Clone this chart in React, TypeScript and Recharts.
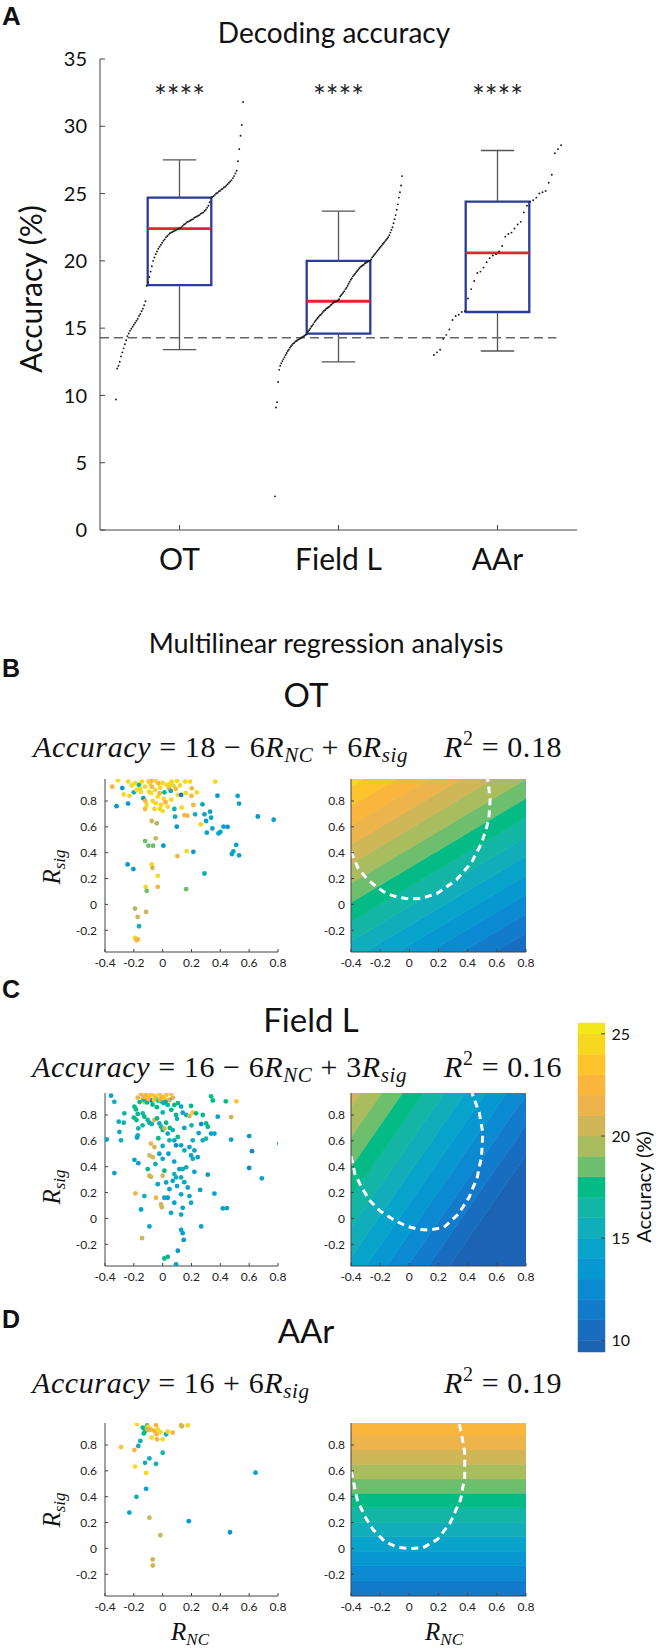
import React from 'react';
import { ComposedChart, Scatter, XAxis, YAxis, ReferenceArea, ReferenceLine, Area, Line } from 'recharts';

const SANS = "Lato, 'Open Sans', 'DejaVu Sans', sans-serif";
const SERIF = "'Liberation Serif', 'DejaVu Serif', serif";
const BOLD = "'Liberation Sans', Arial, sans-serif";

// ---------- Panel A ----------
const REGIONS = ['OT', 'Field L', 'AAr'];
const ACC_OT = [
  9.7, 12.0, 12.2, 12.5, 12.9, 13.2, 13.5, 13.8, 14.1, 14.4,
  14.6, 14.8, 14.95, 15.1, 15.25, 15.4, 15.55, 15.7, 15.9, 16.05,
  16.25, 16.45, 16.7, 17.0, 18.15, 18.4, 18.8, 19.2, 19.6, 20.0,
  20.25, 20.5, 20.7, 20.9, 21.05, 21.2, 21.35, 21.5, 21.6, 21.75,
  21.85, 21.95, 22.05, 22.1, 22.15, 22.2, 22.25, 22.3, 22.35, 22.4,
  22.45, 22.5, 22.6, 22.7, 22.75, 22.85, 22.9, 22.95, 23.0, 23.05,
  23.1, 23.2, 23.25, 23.3, 23.35, 23.4, 23.5, 23.55, 23.6, 23.7,
  23.8, 23.95, 24.1, 24.35, 24.7, 24.75, 24.8, 24.9, 25.0, 25.05,
  25.15, 25.2, 25.3, 25.35, 25.45, 25.5, 25.6, 25.7, 25.8, 25.9,
  26.0, 26.15, 26.3, 26.5, 26.7, 27.4, 28.3, 29.3, 30.1, 31.8,
];
const ACC_FL = [
  2.5, 9.1, 9.5, 11.0, 11.9, 12.2, 12.4, 12.55, 12.7, 12.85,
  13.0, 13.15, 13.3, 13.4, 13.55, 13.65, 13.75, 13.85, 13.9, 14.0,
  14.05, 14.1, 14.15, 14.2, 14.25, 14.3, 14.35, 14.4, 14.45, 14.5,
  14.6, 14.75, 14.85, 14.95, 15.1, 15.2, 15.3, 15.45, 15.55, 15.65,
  15.75, 15.85, 15.95, 16.0, 16.1, 16.2, 16.3, 16.35, 16.45, 16.5,
  16.55, 16.6, 16.7, 16.75, 16.85, 16.9, 16.95, 17.0, 17.0, 17.05,
  17.15, 17.35, 17.45, 17.55, 17.65, 17.75, 17.9, 18.0, 18.15, 18.3,
  18.45, 18.6, 18.7, 18.85, 18.95, 19.05, 19.15, 19.25, 19.35, 19.45,
  19.55, 19.6, 19.65, 19.7, 19.8, 19.85, 19.9, 19.95, 20.0, 20.0,
  20.1, 20.25, 20.35, 20.45, 20.55, 20.65, 20.75, 20.85, 20.95, 21.05,
  21.15, 21.25, 21.35, 21.45, 21.55, 21.65, 21.75, 21.9, 22.1, 22.3,
  22.5, 22.8, 23.1, 23.4, 23.8, 24.2, 24.7, 25.1, 25.6, 26.3,
];
const ACC_AAR = [
  13.0, 13.2, 13.4, 14.2, 14.5, 14.9, 15.6, 15.9, 16.0, 16.2,
  16.25, 17.2, 17.9, 18.5, 19.1, 19.2, 19.5, 19.9, 20.2, 20.4,
  20.5, 20.7, 21.1, 21.8, 22.0, 22.1, 22.4, 22.7, 22.9, 23.6,
  24.1, 24.4, 24.5, 24.7, 25.0, 25.1, 25.2, 25.8, 26.4, 28.0,
  28.3, 28.6,
];
const Q1 = [18.2, 14.6, 16.2];
const MEDIAN = [22.4, 17.0, 20.6];
const Q3 = [24.7, 20.0, 24.4];
const WHISK_LO = [13.4, 12.5, 13.3];
const WHISK_HI = [27.5, 23.7, 28.2];
const CHANCE = 14.29;
const STARS = ['****', '****', '****'];
const A_TICKS = [0, 5, 10, 15, 20, 25, 30, 35];

// ---------- Panels B-D: scatter points [R_NC, R_sig, accuracy] ----------
const SC_OT = [
  [-0.42, 0.69, 14.5], [-0.35, 0.91, 22], [-0.32, 0.76, 13], [-0.31, 0.96, 24.5], [-0.28, 0.9, 13], [-0.24, 0.78, 13],
  [-0.24, 0.95, 24.5], [-0.27, 0.85, 24], [-0.23, 0.84, 24], [-0.215, 0.92, 24.5], [-0.2, 0.867, 15], [-0.19, 0.937, 24],
  [-0.18, 0.885, 24.5], [-0.164, 0.924, 17.5], [-0.157, 0.893, 24], [-0.134, 0.821, 13], [-0.145, 0.95, 24.5], [-0.122, 0.911, 24],
  [-0.122, 0.738, 22], [-0.111, 0.769, 24], [-0.094, 0.872, 24.5], [-0.088, 0.937, 24], [-0.081, 0.955, 22.5], [-0.076, 0.911, 22.5],
  [-0.069, 0.8, 24], [-0.057, 0.738, 24], [-0.053, 0.885, 24], [-0.046, 0.782, 24], [-0.034, 0.834, 24.5], [-0.03, 0.937, 22.5],
  [-0.018, 0.903, 24], [-0.011, 0.769, 24], [0, 0.722, 24], [0.007, 0.816, 24], [0.012, 0.867, 17.5], [0.028, 0.924, 24.5],
  [0.035, 0.756, 24], [0.044, 0.898, 22.5], [0.056, 0.878, 15], [0.063, 0.95, 24], [0.075, 0.919, 24.5], [0.081, 0.738, 15],
  [0.086, 0.679, 15], [0.091, 0.893, 22.5], [0.098, 0.601, 13], [0.105, 0.847, 24], [0.128, 0.847, 11], [0.132, 0.748, 24],
  [0.151, 0.691, 22.5], [0.156, 0.95, 24.5], [0.172, 0.686, 22.5], [0.19, 0.95, 24.5], [0.202, 0.898, 22.5], [0.213, 0.769, 22],
  [0.225, 0.697, 15], [0.237, 0.867, 24], [0.264, 0.619, 24], [0.276, 0.774, 14.5], [0.29, 0.697, 14.5], [0.301, 0.645, 14.5],
  [0.306, 0.555, 14.5], [0.329, 0.717, 14.5], [0.336, 0.671, 14.5], [0.345, 0.588, 14.5], [0.364, 0.95, 24.5], [0.38, 0.841, 13.5],
  [0.387, 0.549, 14.5], [0.422, 0.601, 14.5],
  [-0.076, 0.645, 20], [-0.041, 0.627, 19], [-0.048, 0.511, 20], [-0.122, 0.49, 18], [-0.099, 0.454, 18], [-0.067, 0.454, 18],
  [0.005, 0.454, 13.5], [-0.243, 0.309, 13], [-0.203, 0.273, 13], [-0.076, 0.309, 24], [-0.071, 0.283, 20], [-0.034, 0.221, 24.5],
  [-0.118, 0.136, 24.5], [-0.111, 0.105, 18], [-0.034, 0.136, 22], [0.163, 0.118, 18.5], [0.29, 0.239, 15], [0.167, 0.412, 24],
  [0.213, 0.407, 13.5], [0.102, 0.374, 22.5], [-0.192, -0.032, 19.5], [-0.173, -0.097, 20], [-0.115, -0.058, 20], [-0.164, -0.169, 15],
  [-0.192, -0.259, 24.5], [-0.173, -0.27, 22.5], [-0.18, -0.278, 22.5],
  [0.52, 0.84, 14.5], [0.53, 0.78, 14.5], [0.45, 0.6, 13.5], [0.4, 0.56, 14.5], [0.51, 0.46, 14.5], [0.48, 0.39, 14.5],
  [0.53, 0.38, 14.5], [0.49, 0.41, 14.5], [0.66, 0.68, 13.5], [0.77, 0.655, 14],
  [-0.1, 0.95, 24], [-0.05, 0.955, 24.5], [0, 0.94, 24.5], [0.05, 0.93, 24], [0.1, 0.955, 24.5], [-0.15, 0.87, 24],
  [-0.02, 0.86, 22.5], [0.12, 0.92, 24], [-0.08, 0.86, 24], [0.02, 0.79, 22.5], [-0.02, 0.74, 24], [0.06, 0.81, 24],
  [-0.12, 0.8, 22], [0.16, 0.86, 24], [0.2, 0.84, 22],
];
const SC_FL = [
  [-0.358, 0.949, 14.5], [-0.335, 0.902, 15], [-0.266, 0.813, 16.5], [-0.305, 0.748, 15], [-0.27, 0.74, 16.5], [-0.3, 0.669, 15],
  [-0.289, 0.604, 15], [-0.388, 0.612, 14], [-0.335, 0.351, 14], [-0.196, 0.865, 17.5], [-0.185, 0.844, 17.5], [-0.173, 0.808, 17.5],
  [-0.182, 0.761, 17], [-0.169, 0.696, 16.5], [-0.173, 0.643, 15], [-0.178, 0.625, 14.5], [-0.196, 0.453, 14.5], [-0.169, 0.427, 14.5],
  [-0.189, 0.194, 21.5], [-0.15, 0.069, 14], [-0.143, -0.153, 20.5], [-0.127, 0.173, 15],
  [-0.15, 0.962, 22], [-0.173, 0.935, 21.5], [-0.138, 0.925, 22], [-0.127, 0.9, 23], [-0.115, 0.955, 22], [-0.092, 0.94, 23],
  [-0.081, 0.962, 23.5], [-0.057, 0.948, 23], [-0.046, 0.93, 21.5], [-0.023, 0.96, 23], [-0.006, 0.94, 22], [0.024, 0.955, 23],
  [0.058, 0.962, 23], [0.07, 0.935, 21.5], [-0.131, 0.917, 16.5], [-0.108, 0.897, 17.5], [-0.076, 0.912, 11], [-0.03, 0.912, 17.5],
  [-0.006, 0.904, 15], [0.007, 0.891, 16.5], [0.035, 0.878, 15], [0.047, 0.917, 16.5], [0.081, 0.878, 17.5], [0.093, 0.8, 17.5],
  [0.105, 0.891, 17.5], [0.128, 0.865, 14], [0.139, 0.818, 14.5], [0.163, 0.8, 15], [0.186, 0.792, 20.5], [0.197, 0.87, 17.5],
  [0.209, 0.818, 23], [0.232, 0.813, 17.5], [0.267, 0.73, 12], [0.278, 0.8, 17.5], [0.301, 0.735, 17], [0.313, 0.709, 17],
  [0.336, 0.944, 17.5], [0.348, 0.912, 17.5], [0.382, 0.787, 14],
  [-0.138, 0.813, 16.5], [-0.127, 0.787, 17.5], [-0.104, 0.761, 16.5], [-0.092, 0.74, 17.5], [-0.076, 0.73, 15], [-0.057, 0.761, 20],
  [-0.039, 0.774, 17.5], [-0.023, 0.735, 15], [-0.011, 0.709, 16.5], [0, 0.683, 17.5], [0.012, 0.696, 20], [0.024, 0.74, 17.5],
  [0.035, 0.656, 14.5], [0.047, 0.604, 16.5], [0.07, 0.683, 15], [0.081, 0.604, 14], [0.093, 0.565, 12.5], [0.105, 0.63, 17],
  [0.128, 0.565, 14], [0.151, 0.526, 15], [0.186, 0.552, 14], [0.209, 0.604, 15], [0.22, 0.526, 14], [0.243, 0.474, 14],
  [0.278, 0.604, 15], [0.301, 0.617, 16.5], [0.336, 0.656, 14], [0.359, 0.656, 14],
  [-0.081, 0.578, 21.5], [-0.057, 0.552, 20.5], [-0.092, 0.487, 20], [-0.069, 0.474, 20.5], [-0.104, 0.382, 17.5], [-0.092, 0.33, 20],
  [-0.081, 0.322, 20], [-0.023, 0.5, 14.5], [0, 0.461, 14.5], [0.012, 0.369, 17], [0, 0.33, 20], [-0.034, 0.265, 14],
  [0.024, 0.278, 14], [-0.011, 0.108, 20], [-0.006, 0.087, 20.5], [-0.046, 0.16, 21.5], [0.012, 0.16, 14], [0.035, 0.16, 13.5],
  [0.047, 0.226, 14], [0.07, 0.291, 14], [0.081, 0.343, 15], [0.093, 0.317, 15], [0.116, 0.382, 14], [0.139, 0.382, 15],
  [0.128, 0.317, 15], [0.163, 0.395, 15], [0.197, 0.487, 14], [0.209, 0.461, 15], [0.174, 0.239, 14], [0.128, 0.186, 14],
  [0.081, 0.121, 14], [0.058, 0.043, 14.5], [0.128, 0.03, 14], [0.139, 0.082, 14], [0.186, 0.173, 14], [0.197, 0.121, 15],
  [0.128, -0.088, 14], [0.139, -0.114, 14], [0.146, -0.166, 13], [0.105, -0.25, 13], [0.012, -0.31, 17], [0.035, -0.297, 17],
  [0.093, -0.355, 14], [-0.092, -0.062, 14], [0.267, -0.062, 14], [0.313, 0.338, 13], [0.359, 0.192, 14], [0.417, 0.077, 14],
  [0.438, 0.906, 17.5], [0.511, 0.906, 23], [0.475, 0.784, 20], [0.475, 0.61, 14], [0.6, 0.637, 13], [0.62, 0.52, 12],
  [0.6, 0.39, 12.5], [0.688, 0.31, 14], [0.81, 0.58, 14], [0.446, 0.08, 14],
  [-0.1, 0.925, 22.5], [-0.06, 0.915, 23], [-0.02, 0.92, 22], [0.01, 0.93, 23], [0.04, 0.915, 22], [-0.13, 0.94, 22.5],
  [-0.07, 0.88, 17], [0.02, 0.9, 14.5], [-0.16, 0.9, 17.5], [-0.04, 0.86, 17], [0, 0.82, 15], [0.06, 0.84, 17.5],
  [0.1, 0.77, 15], [-0.2, 0.78, 17], [-0.14, 0.72, 16.5], [0.15, 0.7, 14.5], [0.2, 0.72, 16.5], [0.25, 0.66, 14.5],
  [0.05, 0.7, 17.5], [-0.03, 0.62, 17], [0, 0.56, 15], [0.04, 0.5, 14.5], [-0.05, 0.42, 15], [0.08, 0.44, 14],
  [0.1, 0.25, 14], [0.15, 0.28, 14.5], [0.22, 0.36, 14], [0.26, 0.22, 14],
];
const SC_AAR = [
  [-0.178, 0.962, 24.5], [-0.138, 0.935, 17], [-0.122, 0.909, 17.5], [-0.131, 0.889, 17], [-0.108, 0.952, 18.5], [-0.099, 0.94, 24],
  [-0.092, 0.915, 22.5], [-0.108, 0.92, 20], [-0.081, 0.92, 22.5], [-0.057, 0.909, 22.5], [-0.046, 0.952, 22], [-0.034, 0.92, 24],
  [-0.016, 0.9, 24], [-0.076, 0.857, 24], [-0.043, 0.883, 22.5], [-0.039, 0.844, 22], [0, 0.844, 24], [0.024, 0.883, 15.5],
  [0.035, 0.904, 24], [0.07, 0.896, 22], [0.128, 0.952, 20], [0.133, 0.945, 20.5], [0.174, 0.952, 24], [-0.155, 0.831, 15.5],
  [-0.169, 0.792, 15], [-0.196, 0.761, 22], [-0.289, 0.784, 23.5], [-0.192, 0.633, 24], [-0.115, 0.584, 24.5], [-0.122, 0.662, 15],
  [-0.092, 0.696, 15.5], [-0.046, 0.654, 15.5], [0, 0.74, 16], [-0.115, 0.461, 14.5], [-0.182, 0.399, 15.5], [-0.231, 0.277, 14],
  [-0.092, 0.238, 20], [-0.016, 0.102, 20], [-0.069, -0.085, 20.5], [-0.069, -0.132, 20], [0.181, 0.211, 13], [0.467, 0.125, 13.5],
  [0.644, 0.586, 14],
];

// contour surfaces: [intercept, coef R_NC, coef R_sig]
const SURF_OT = [16.1, -4.5, 6.7];
const SURF_FL = [13.5, -7.0, 4.3];
const SURF_AAR = [14.2, 0, 8.9];

// white dashed boundary curves [R_NC, R_sig]
const DASH_OT = [
  [-0.4, 0.41], [-0.395, 0.394], [-0.35, 0.278], [-0.293, 0.2], [-0.225, 0.136], [-0.157, 0.084], [-0.078, 0.055],
  [0, 0.043], [0.08, 0.045], [0.193, 0.087], [0.323, 0.19], [0.424, 0.32], [0.496, 0.474], [0.545, 0.655],
  [0.554, 0.81], [0.54, 0.95], [0.535, 0.97],
];
const DASH_FL = [
  [-0.4, 0.48], [-0.395, 0.461], [-0.373, 0.344], [-0.327, 0.24], [-0.27, 0.136], [-0.202, 0.058], [-0.111, -0.008],
  [-0.02, -0.06], [0.07, -0.086], [0.135, -0.09], [0.236, -0.07], [0.337, 0.034], [0.41, 0.164], [0.466, 0.32],
  [0.495, 0.477], [0.504, 0.66], [0.48, 0.816], [0.438, 0.945], [0.43, 0.97],
];
const DASH_AAR = [
  [-0.4, 0.6], [-0.395, 0.58], [-0.357, 0.376], [-0.305, 0.247], [-0.248, 0.144], [-0.168, 0.054], [-0.088, 0.01],
  [0, -0.002], [0.093, 0.005], [0.193, 0.07], [0.28, 0.198], [0.352, 0.378], [0.38, 0.558], [0.38, 0.738],
  [0.357, 0.893], [0.34, 0.97],
];

const X_DOMAIN = [-0.4, 0.8];
const Y_DOMAIN = [-0.368, 0.97];
const R_TICKS_X = [-0.4, -0.2, 0, 0.2, 0.4, 0.6, 0.8];
const R_TICKS_Y = [-0.2, 0, 0.2, 0.4, 0.6, 0.8];

const LEVELS = [9.43, 10, 11, 12, 13, 14, 15, 16, 17, 18, 19, 20, 21, 22, 23, 24, 25, 25.53];
const BAND_COLORS = [
  '#1c63b3', '#196dc0', '#137bcb', '#0b89d1', '#0797d1', '#07a3cb', '#12adbb', '#13b5a4', '#04bb86',
  '#6dbf6e', '#a9bc5e', '#cfb657', '#edb44c', '#fab53d', '#fdc52b', '#f6d820', '#f2e71a',
];
const CB_TICKS = [10, 15, 20, 25];

const colorFor = (v: number) => {
  for (let i = 0; i < BAND_COLORS.length; i++) if (v < LEVELS[i + 1]) return BAND_COLORS[i];
  return BAND_COLORS[BAND_COLORS.length - 1];
};

const rankDots = (vals: number[], cat: number) =>
  vals.map((v, i) => ({ x: cat - 0.4 + (0.8 * i) / (vals.length - 1), y: v }));

const toPts = (arr: number[][]) => arr.map(([x, y, a]) => ({ x, y, acc: a }));
const toLine = (arr: number[][]) => arr.map(([x, y]) => ({ x, y }));

const bands = (surf: number[]) => {
  const [a, b, c] = surf;
  const last = BAND_COLORS.length - 1;
  return BAND_COLORS.map((col, k) => {
    const lo = (x: number) => (k === 0 ? -5 : (LEVELS[k] - a - b * x) / c);
    const hi = (x: number) => (k === last ? 5 : (LEVELS[k + 1] - a - b * x) / c);
    return { col, data: X_DOMAIN.map((x) => ({ x, r: [lo(x), hi(x)] })) };
  });
};

const AX = { stroke: '#444', strokeWidth: 1 };
const fmt = (v: number) => String(v);

const smallDot = (p: any) => <circle cx={p.cx} cy={p.cy} r={0.95} fill="#1a1a1a" />;
const colorDot = (p: any) => <circle cx={p.cx} cy={p.cy} r={2.4} fill={colorFor(p.payload.acc)} />;
const starShape = (p: any) => (
  <text x={p.cx} y={p.cy} textAnchor="middle" fontSize={30} fontFamily={SANS} fill="#222">
    {p.payload.label}
  </text>
);

function PanelA() {
  const dots = [rankDots(ACC_OT, 1), rankDots(ACC_FL, 2), rankDots(ACC_AAR, 3)];
  const stars = STARS.map((s, i) => ({ x: i + 1, y: 31.4, label: s }));
  return (
    <div style={{ position: 'absolute', left: 0, top: 0 }}>
      <ComposedChart width={656} height={600} margin={{ top: 59, right: 79, bottom: 30, left: 0 }}>
        <XAxis type="number" dataKey="x" domain={[0.5, 3.5]} ticks={[1, 2, 3]} allowDataOverflow height={40}
          interval={0} tickFormatter={(v: number) => REGIONS[Math.round(v) - 1]} tickSize={-5} tickMargin={24}
          tick={{ fontSize: 30, fontFamily: SANS, fill: '#111' }} axisLine={AX} tickLine={AX} />
        <YAxis type="number" dataKey="y" domain={[0, 35]} ticks={A_TICKS} allowDataOverflow width={100}
          interval={0} tickSize={-5} tickMargin={18} tick={{ fontSize: 20, fontFamily: SANS, fill: '#111' }}
          axisLine={AX} tickLine={AX} />
        {REGIONS.map((r, i) => {
          const c = i + 1;
          return (
            <React.Fragment key={r}>
              <ReferenceLine segment={[{ x: c, y: Q3[i] }, { x: c, y: WHISK_HI[i] }]} stroke="#555" strokeWidth={1.3} />
              <ReferenceLine segment={[{ x: c, y: WHISK_LO[i] }, { x: c, y: Q1[i] }]} stroke="#555" strokeWidth={1.3} />
              <ReferenceLine segment={[{ x: c - 0.105, y: WHISK_HI[i] }, { x: c + 0.105, y: WHISK_HI[i] }]} stroke="#555" strokeWidth={1.3} />
              <ReferenceLine segment={[{ x: c - 0.105, y: WHISK_LO[i] }, { x: c + 0.105, y: WHISK_LO[i] }]} stroke="#555" strokeWidth={1.3} />
              <ReferenceArea x1={c - 0.2} x2={c + 0.2} y1={Q1[i]} y2={Q3[i]} fill="none" fillOpacity={0}
                stroke="#2a3b9c" strokeWidth={2.3} />
              <ReferenceLine segment={[{ x: c - 0.2, y: MEDIAN[i] }, { x: c + 0.2, y: MEDIAN[i] }]} stroke="#e2272b" strokeWidth={2.8} />
            </React.Fragment>
          );
        })}
        <ReferenceLine segment={[{ x: 0.5, y: CHANCE }, { x: 3.37, y: CHANCE }]} stroke="#666" strokeWidth={1.6} strokeDasharray="9 5" />
        {dots.map((d, i) => (
          <Scatter key={i} data={d} dataKey="y" shape={smallDot} isAnimationActive={false} />
        ))}
        <Scatter data={stars} dataKey="y" shape={starShape} isAnimationActive={false} />
      </ComposedChart>
    </div>
  );
}

const tickSmall = { fontSize: 12, fontFamily: SANS, fill: '#222' };

function ScatterPanel({ top, pts }: { top: number; pts: number[][] }) {
  return (
    <div style={{ position: 'absolute', left: 0, top: top - 10 }}>
      <ComposedChart width={290} height={215} margin={{ top: 10, right: 12, bottom: 2, left: 0 }}>
        <XAxis type="number" dataKey="x" domain={X_DOMAIN} ticks={R_TICKS_X} allowDataOverflow height={30} interval={0}
          tickFormatter={fmt} tickSize={-3} tickMargin={9.5} tick={tickSmall} axisLine={AX} tickLine={AX} />
        <YAxis type="number" dataKey="y" domain={Y_DOMAIN} ticks={R_TICKS_Y} allowDataOverflow width={105} interval={0}
          tickFormatter={fmt} tickSize={-3} tickMargin={11} tick={tickSmall} axisLine={AX} tickLine={AX} />
        <Scatter data={toPts(pts)} dataKey="y" shape={colorDot} isAnimationActive={false} />
      </ComposedChart>
    </div>
  );
}

function ContourPanel({ top, surf, dash }: { top: number; surf: number[]; dash: number[][] }) {
  const bs = bands(surf);
  return (
    <div style={{ position: 'absolute', left: 291, top: top - 10 }}>
      <ComposedChart width={256} height={215} margin={{ top: 10, right: 21, bottom: 2, left: 0 }}>
        <XAxis type="number" dataKey="x" domain={X_DOMAIN} ticks={R_TICKS_X} allowDataOverflow height={30} interval={0}
          tickFormatter={fmt} tickSize={-3} tickMargin={9.5} tick={tickSmall} axisLine={AX} tickLine={AX} />
        <YAxis type="number" dataKey="y" domain={Y_DOMAIN} ticks={R_TICKS_Y} allowDataOverflow width={60} interval={0}
          tickFormatter={fmt} tickSize={-3} tickMargin={9} tick={tickSmall} axisLine={AX} tickLine={AX} />
        {bs.map((b, k) => (
          <Area key={k} data={b.data} dataKey="r" type="linear" stroke={b.col} strokeWidth={0.6} fill={b.col}
            fillOpacity={1} dot={false} activeDot={false} isAnimationActive={false} />
        ))}
        <Line data={toLine(dash)} dataKey="y" type="linear" stroke="#ffffff" strokeWidth={3} strokeDasharray="7 5"
          dot={false} activeDot={false} isAnimationActive={false} />
      </ComposedChart>
    </div>
  );
}

function ColorBar() {
  const bandsCb = BAND_COLORS.map((col, i) => ({ col, y1: LEVELS[i], y2: LEVELS[i + 1] }));
  return (
    <div style={{ position: 'absolute', left: 570, top: 1013 }}>
      <ComposedChart width={86} height={349} margin={{ top: 10, right: 0, bottom: 10, left: 8 }}>
        <XAxis type="number" dataKey="x" domain={[0, 1]} hide allowDataOverflow />
        <YAxis type="number" dataKey="y" orientation="right" domain={[LEVELS[0], LEVELS[LEVELS.length - 1]]}
          ticks={CB_TICKS} allowDataOverflow width={51} interval={0} tickSize={-4} tickMargin={10.5}
          tick={{ fontSize: 16, fontFamily: SANS, fill: '#111' }} axisLine={false} tickLine={AX} />
        {bandsCb.map((b, i) => (
          <ReferenceArea key={i} x1={0} x2={1} y1={b.y1} y2={b.y2} fill={b.col} fillOpacity={1} stroke={b.col} strokeWidth={0.5} />
        ))}
      </ComposedChart>
    </div>
  );
}

function Equation({ x, y, lead, nc, sig }: { x: number; y: number; lead: string; nc: string | null; sig: string }) {
  return (
    <text x={x} y={y} fontFamily={SERIF} fontSize={30} letterSpacing={0.6} fill="#111" style={{ whiteSpace: 'pre' }}>
      <tspan fontStyle="italic">Accuracy</tspan>
      <tspan>{` = ${lead}`}</tspan>
      {nc !== null && (
        <>
          <tspan>{` − ${nc}`}</tspan>
          <tspan fontStyle="italic">R</tspan>
          <tspan fontStyle="italic" fontSize={21} dy={5}>NC</tspan>
          <tspan dy={-5}>{` + ${sig}`}</tspan>
        </>
      )}
      {nc === null && <tspan>{` + ${sig}`}</tspan>}
      <tspan fontStyle="italic">R</tspan>
      <tspan fontStyle="italic" fontSize={21} dy={5}>sig</tspan>
    </text>
  );
}

function RSq({ x, y, v }: { x: number; y: number; v: string }) {
  return (
    <text x={x} y={y} fontFamily={SERIF} fontSize={30} letterSpacing={0.6} fill="#111" style={{ whiteSpace: 'pre' }}>
      <tspan fontStyle="italic">R</tspan>
      <tspan fontSize={20} dy={-12}>2</tspan>
      <tspan dy={12}>{` = ${v}`}</tspan>
    </text>
  );
}

function RLabel({ x, y, sub, rotate }: { x: number; y: number; sub: string; rotate?: boolean }) {
  return (
    <text transform={`translate(${x},${y})${rotate ? ' rotate(-90)' : ''}`} textAnchor="middle" fontFamily={SERIF}
      fontSize={25} fontStyle="italic" fill="#111">
      <tspan>R</tspan>
      <tspan fontSize={17} dy={5}>{sub}</tspan>
    </text>
  );
}

function Overlay() {
  const T = { fontFamily: SANS, fill: '#111' } as any;
  return (
    <svg width={656} height={1650} style={{ position: 'absolute', left: 0, top: 0, pointerEvents: 'none' }}>
      <text x={2} y={25} fontFamily={BOLD} fontWeight={700} fontSize={26} fill="#111">A</text>
      <text x={334} y={43} textAnchor="middle" fontSize={28} {...T}>Decoding accuracy</text>
      <text transform="translate(30,289) rotate(-90)" textAnchor="middle" dominantBaseline="central" fontSize={30} {...T}>Accuracy (%)</text>
      <text x={326} y={653} textAnchor="middle" fontSize={27} {...T}>Multilinear regression analysis</text>
      <text x={2} y={677} fontFamily={BOLD} fontWeight={700} fontSize={25} fill="#111">B</text>
      <text x={2} y={998} fontFamily={BOLD} fontWeight={700} fontSize={25} fill="#111">C</text>
      <text x={2} y={1328} fontFamily={BOLD} fontWeight={700} fontSize={25} fill="#111">D</text>
      <text x={306} y={707} textAnchor="middle" fontSize={33} {...T}>OT</text>
      <text x={311} y={1032} textAnchor="middle" fontSize={33} {...T}>Field L</text>
      <text x={306} y={1343} textAnchor="middle" fontSize={33} {...T}>AAr</text>
      <Equation x={33} y={757} lead="18" nc="6" sig="6" />
      <RSq x={444} y={757} v="0.18" />
      <Equation x={32} y={1077} lead="16" nc="6" sig="3" />
      <RSq x={444} y={1077} v="0.16" />
      <Equation x={32} y={1393} lead="16" nc={null} sig="6" />
      <RSq x={444} y={1393} v="0.19" />
      <RLabel x={60} y={867} sub="sig" rotate />
      <RLabel x={60} y={1187} sub="sig" rotate />
      <RLabel x={60} y={1510} sub="sig" rotate />
      <RLabel x={190} y={1640} sub="NC" />
      <RLabel x={444} y={1640} sub="NC" />
      <text transform="translate(643,1187) rotate(-90)" textAnchor="middle" dominantBaseline="central" fontSize={20} {...T}>Accuracy (%)</text>
    </svg>
  );
}

export default function App() {
  return (
    <div style={{ position: 'absolute', left: 0, top: 0, width: 656, height: 1650, background: '#fff', overflow: 'hidden' }}>
      <PanelA />
      <ScatterPanel top={779} pts={SC_OT} />
      <ContourPanel top={779} surf={SURF_OT} dash={DASH_OT} />
      <ScatterPanel top={1093} pts={SC_FL} />
      <ContourPanel top={1093} surf={SURF_FL} dash={DASH_FL} />
      <ScatterPanel top={1423} pts={SC_AAR} />
      <ContourPanel top={1423} surf={SURF_AAR} dash={DASH_AAR} />
      <ColorBar />
      <Overlay />
    </div>
  );
}
